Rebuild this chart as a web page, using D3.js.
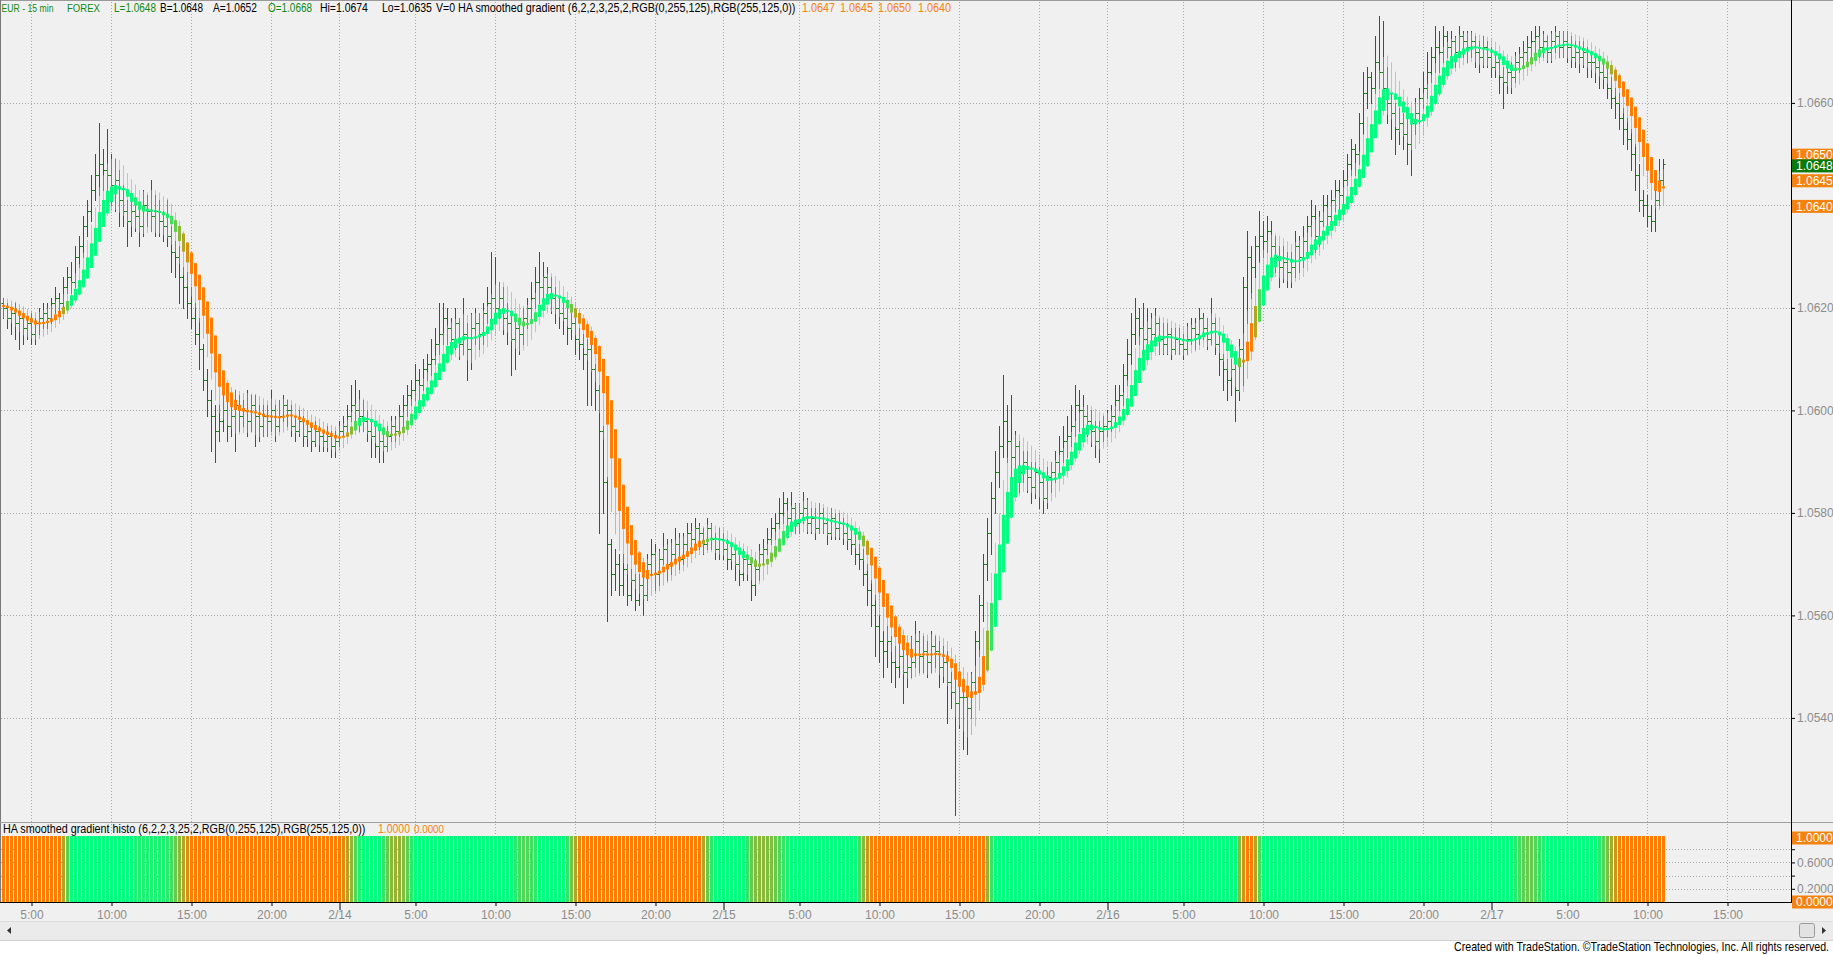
<!DOCTYPE html>
<html><head><meta charset="utf-8">
<script src="https://cdn.jsdelivr.net/npm/d3@7/dist/d3.min.js"></script>
<style>
html,body{margin:0;padding:0;background:#fff;overflow:hidden;}
svg{display:block;}
text{font-family:"Liberation Sans Narrow","Arial Narrow","Liberation Sans",Arial,sans-serif;}
</style></head><body>
<svg id="chart" width="1833" height="955"></svg>
<script>
// ---------- DATA (prices in pips above 1.0500) ----------
const basePrice = 1.05;
const open = [
121,120,118,119,117,118,116,117,115,117, 118,119,118,121,122,121,124,126,125,130,
132,136,139,143,146,148,147,146,144,145, 141,139,137,139,138,136,140,139,138,139,
137,136,134,131,130,126,124,121,118,115, 112,106,102,99,96,98,100,97,99,101,
99,100,98,101,99,97,99,98,100,97, 99,101,100,97,96,98,95,96,94,96,
95,94,95,93,94,96,97,99,101,100, 99,98,96,95,93,94,93,95,97,96,
99,101,103,104,106,105,108,109,110,113, 115,118,116,114,117,113,115,112,116,117,
115,119,121,122,120,122,118,117,114,116, 115,118,120,122,125,124,126,124,122,120,
119,118,116,117,114,113,111,112,108,104, 96,86,74,68,70,66,69,64,67,63,
66,64,70,72,68,71,73,70,72,74, 71,74,76,75,77,76,74,77,75,73,
75,73,71,72,70,68,71,70,66,69, 72,73,75,77,78,80,82,79,81,78,
80,81,78,79,77,80,78,76,79,77, 78,76,75,74,72,71,68,65,62,58,
55,53,55,51,50,52,49,50,51,55, 52,53,51,54,53,50,51,47,45,43,
44,44,42,47,55,62,70,76,83,88, 93,98,94,91,93,88,90,87,85,88,
86,83,87,88,90,92,94,95,97,101, 100,99,98,96,94,96,97,98,99,102,
103,107,111,115,118,116,114,116,115,117, 114,113,115,112,114,113,112,114,116,115,
118,116,114,117,113,110,108,106,108,104, 112,124,130,128,132,134,133,135,132,130,
128,129,127,128,132,130,133,136,138,134, 137,140,138,141,143,142,145,148,151,150,
156,162,165,163,168,166,163,160,158,155, 156,154,152,156,158,161,163,166,169,171,
170,173,171,172,170,173,172,171,172,170, 169,171,169,167,168,165,164,166,165,168,
169,170,171,172,173,171,172,170,172,173, 171,172,171,169,170,169,170,168,168,167,
166,165,163,161,160,157,155,153,150,146, 141,140,138,137,141,145];
const high = [
122,121,120,121,119,119,118,119,118,120, 121,121,122,124,123,126,128,129,132,134,
138,141,146,150,156,151,155,150,149,147, 144,141,142,141,140,143,142,145,142,141,
139,141,136,133,132,128,127,124,121,118, 113,108,104,101,101,103,102,101,104,103,
102,104,103,103,101,101,101,104,101,102, 103,102,101,99,100,99,98,97,98,97,
96,97,96,96,98,99,101,105,106,104, 102,100,98,97,96,96,97,99,99,101,
103,105,106,109,108,110,111,114,116,121, 121,120,118,120,118,122,117,119,120,119,
121,124,131,130,125,124,121,119,118,118, 120,122,125,128,131,129,128,126,124,122,
121,120,119,118,116,115,114,113,109,105, 97,87,75,73,72,72,70,69,68,68,
68,72,75,74,73,76,75,75,77,76, 76,78,78,79,78,77,79,78,76,77,
76,75,74,73,72,73,72,71,71,74, 75,77,79,80,83,84,83,84,82,82,
84,83,81,81,82,81,79,81,80,80, 79,78,77,76,74,73,70,67,64,60,
57,58,56,54,55,54,53,56,59,57, 56,55,57,56,55,54,53,49,48,47,
47,46,49,57,64,72,79,86,92,97, 107,101,103,96,94,92,92,90,90,89,
88,89,90,92,95,97,99,101,105,104, 103,101,100,98,98,99,100,101,105,105,
109,114,119,122,120,121,120,119,120,118, 117,117,116,116,116,115,117,118,118,120,
119,118,122,118,115,111,110,110,109,114, 126,135,132,134,139,137,138,137,134,132,
132,131,131,135,134,136,138,141,140,139, 142,142,143,145,145,147,150,153,152,158,
166,167,166,173,177,176,167,162,160,159, 158,157,158,161,163,166,170,171,175,174,
175,174,174,173,175,174,174,174,173,172, 173,172,171,170,169,167,168,168,170,171,
172,173,174,175,175,174,173,174,175,174, 174,174,173,172,172,172,171,170,169,169,
168,167,165,163,162,159,157,155,152,148, 143,142,140,144,149,149];
const low = [
118,116,115,114,112,113,114,113,113,115, 116,116,117,119,119,120,123,123,124,128,
130,134,137,141,142,143,142,140,139,136, 136,132,134,135,132,134,136,135,134,134,
133,132,127,126,121,120,118,116,113,108, 104,99,92,90,94,96,94,95,92,96,
97,95,96,93,94,95,95,96,94,96, 98,97,95,94,95,93,93,92,93,92,
92,92,91,91,93,95,96,98,97,96, 96,94,91,91,90,90,92,94,94,95,
97,99,101,102,102,104,106,107,109,111, 113,113,111,112,110,111,106,108,113,112,
113,117,118,117,118,115,113,107,108,111, 113,116,118,120,121,122,121,119,117,116,
115,113,114,111,110,108,101,101,100,76, 80,59,64,65,64,64,62,63,61,62,
60,63,68,65,66,70,67,68,71,69, 70,72,73,74,73,72,73,73,71,71,
71,69,69,67,66,67,67,63,64,67, 70,72,74,75,77,78,77,77,76,76,
78,76,76,75,76,76,74,75,75,75, 74,73,72,70,69,66,62,58,52,51,
48,50,47,46,48,43,46,48,50,49, 49,48,49,50,46,47,39,42,21,38,
34,33,40,45,52,59,67,72,80,85, 91,90,87,88,84,86,84,82,83,81,
80,81,84,86,88,90,91,93,95,96, 96,95,93,91,90,94,95,96,97,100,
101,105,109,113,113,111,112,112,113,111, 111,111,110,111,111,110,111,113,112,113,
114,112,113,111,107,104,102,103,98,102, 105,117,122,126,129,130,131,129,127,124,
125,124,124,126,127,128,131,134,131,132, 136,135,137,139,139,140,144,146,146,148,
154,159,160,162,163,160,156,153,150,152, 151,148,146,154,156,159,161,164,166,166,
168,169,168,167,169,169,168,169,167,166, 167,167,165,165,162,159,162,162,164,166,
167,168,169,170,169,169,168,168,170,169, 169,168,167,167,166,167,165,165,164,163,
163,161,159,157,155,152,151,147,143,139, 138,136,135,135,140,144];
const close = [
120,118,119,117,118,116,117,115,117,118, 119,118,121,122,121,124,126,125,130,132,
136,139,143,146,148,147,146,144,145,141, 139,137,139,138,136,140,139,138,139,137,
136,134,131,130,126,124,121,118,115,112, 106,102,99,96,98,100,97,99,101,99,
100,98,101,99,97,99,98,100,97,99, 101,100,97,96,98,95,96,94,96,95,
94,95,93,94,96,97,99,101,100,99, 98,96,95,93,94,93,95,97,96,99,
101,103,104,106,105,108,109,110,113,115, 118,116,114,117,113,115,112,116,117,115,
119,121,122,120,122,118,117,114,116,115, 118,120,122,125,124,126,124,122,120,119,
118,116,117,114,113,111,112,108,104,96, 86,74,68,70,66,69,64,67,63,66,
64,70,72,68,71,73,70,72,74,71, 74,76,75,77,76,74,77,75,73,75,
73,71,72,70,68,71,70,66,69,72, 73,75,77,78,80,82,79,81,78,80,
81,78,79,77,80,78,76,79,77,78, 76,75,74,72,71,68,65,62,58,55,
53,55,51,50,52,49,50,51,55,52, 53,51,54,53,50,51,47,45,43,44,
44,42,47,55,62,70,76,83,88,93, 98,94,91,93,88,90,87,85,88,86,
83,87,88,90,92,94,95,97,101,100, 99,98,96,94,96,97,98,99,102,103,
107,111,115,118,116,114,116,115,117,114, 113,115,112,114,113,112,114,116,115,118,
116,114,117,113,110,108,106,108,104,112, 124,130,128,132,134,133,135,132,130,128,
129,127,128,132,130,133,136,138,134,137, 140,138,141,143,142,145,148,151,150,156,
162,165,163,168,166,163,160,158,155,156, 154,152,156,158,161,163,166,169,171,170,
173,171,172,170,173,172,171,172,170,169, 171,169,167,168,165,164,166,165,168,169,
170,171,172,173,171,172,170,172,173,171, 172,171,169,170,169,170,168,168,167,166,
165,163,161,160,157,155,153,150,146,141, 140,138,137,141,145,148];
// colour gradient per bar (0 = down colour, 1 = up colour)
const gradient = [
0,0,0,0,0,0,0,0,0,0, 0,0,0,0,0,0.3,0.65,1,1,1,
1,1,1,1,1,1,1,1,1,1, 1,1,1,0.9,0.9,0.9,0.9,0.9,0.9,0.9,
0.9,0.85,0.75,0.6,0.45,0.3,0.15,0,0,0, 0,0,0,0,0,0,0,0,0,0,
0,0,0,0,0,0,0,0,0,0, 0,0,0,0,0,0,0,0,0,0,
0,0,0,0,0,0.1,0.25,0.45,0.7,0.9, 1,1,1,1,1,0.8,0.6,0.45,0.4,0.4,
0.5,0.65,0.85,1,1,1,1,1,1,1, 1,1,1,1,1,1,1,1,1,1,
1,1,1,1,1,1,1,1,0.85,0.75, 0.7,0.7,0.75,0.85,1,1,1,1,1,1,
1,0.8,0.55,0.3,0.1,0,0,0,0,0, 0,0,0,0,0,0,0,0,0,0,
0,0,0,0,0,0,0,0,0,0, 0,0,0,0,0,0.3,0.6,0.85,1,1,
1,1,1,1,1,1,0.8,0.6,0.5,0.45, 0.45,0.5,0.5,0.6,0.7,0.8,0.9,1,1,1,
1,1,1,1,1,1,1,1,1,1, 1,1,1,1,0.75,0.45,0.2,0.05,0,0,
0,0,0,0,0,0,0,0,0,0, 0,0,0,0,0,0,0,0,0,0,
0,0,0,0,0,0,0.4,0.8,1,1, 1,1,1,1,1,1,1,1,1,1,
1,1,1,1,1,1,1,1,1,1, 1,1,1,1,1,1,1,1,1,1,
1,1,1,1,1,1,1,1,1,1, 1,1,1,1,1,1,1,1,1,1,
1,1,1,1,1,1,1,1,1,0.5, 0.15,0,0,0.3,0.7,1,1,1,1,1,
1,1,1,1,1,1,1,1,1,1, 1,1,1,1,1,1,1,1,1,1,
1,1,1,1,1,1,1,1,1,1, 1,1,1,1,1,1,1,1,1,1,
1,1,1,1,1,1,1,1,1,1, 1,1,1,1,1,1,1,1,0.85,0.75,
0.65,0.6,0.6,0.7,0.8,0.9,1,1,1,1, 1,1,1,1,1,1,1,1,1,0.85,
0.7,0.5,0.35,0.2,0.05,0,0,0,0,0, 0,0,0,0,0,0];
const histLevel = 1;
const upColor = "rgb(0,255,125)", downColor = "rgb(255,125,0)";
const smoothLen1 = 6, smoothLen2 = 2;

const timeTickBars   = [7,27,47,67,84,103,123,143,163,180,199,219,239,259,276,295,315,335,355,372,391,411,431];
const timeTickLabels = ["5:00","10:00","15:00","20:00","2/14","5:00","10:00","15:00","20:00","2/15","5:00","10:00","15:00","20:00","2/16","5:00","10:00","15:00","20:00","2/17","5:00","10:00","15:00"];
const priceTicks = [1.0540,1.0560,1.0580,1.0600,1.0620,1.0640,1.0660];
const histTicks = [0.2,0.4,0.6,0.8];
const histTickLabels = ["0.2000","","0.6000",""];
const lastPrice = 1.0648;
const haMarkers = [1.0650,1.0645,1.0640];
const histMarkers = [1.0,0.0];

// [text, left x, available width, colour]
const headerParts = [
 ["EUR - 15 min",1.6,52,"g"],["FOREX",67,33,"g"],["L=1.0648",114,42,"g"],["B=1.0648",160,43,"k"],
 ["A=1.0652",213,44,"k"],["O=1.0668",268,44,"g"],["Hi=1.0674",320,48,"k"],["Lo=1.0635",382,50,"k"],
 ["V=0",436,19,"k"],["HA smoothed gradient (6,2,2,3,25,2,RGB(0,255,125),RGB(255,125,0))",458,338,"k"],
 ["1.0647",802,34,"o"],["1.0645",840,34,"o"],["1.0650",878,36,"o"],["1.0640",918,34,"o"]];
const headerRefToken = 9;
const histHeaderParts = [
 ["HA smoothed gradient histo (6,2,2,3,25,2,RGB(0,255,125),RGB(255,125,0))",3,363,"k"],
 ["1.0000",378,32,"o"],["0.0000",414,30,"o"]];
const histHeaderRefToken = 0;
const footerText = "Created with TradeStation. \u00A9TradeStation Technologies, Inc. All rights reserved.";

// ---------- INDICATOR (smoothed Heikin-Ashi) ----------
function ema(arr, n){ const a = 2/(n+1); const out=[]; arr.forEach((v,i)=>out.push(i?out[i-1]+a*(v-out[i-1]):v)); return out; }
const o1=ema(open,smoothLen1), h1=ema(high,smoothLen1), l1=ema(low,smoothLen1), c1=ema(close,smoothLen1);
const haC=[], haO=[], haH=[], haL=[];
close.forEach((_,i)=>{
  haC[i]=(o1[i]+h1[i]+l1[i]+c1[i])/4;
  haO[i]= i? (haO[i-1]+haC[i-1])/2 : (o1[i]+c1[i])/2;
  haH[i]=Math.max(h1[i],haO[i],haC[i]);
  haL[i]=Math.min(l1[i],haO[i],haC[i]);
});
const so=ema(haO,smoothLen2), sc=ema(haC,smoothLen2), sh=ema(haH,smoothLen2), sl=ema(haL,smoothLen2);

// ---------- SCALES ----------
const P = p => basePrice + p/10000;
const x = d3.scaleLinear().domain([0,431]).range([3.5, 3.5+4*431]);
const y = d3.scaleLinear().domain([1.0540,1.0660]).range([717.9,102.9]);
const yh = d3.scaleLinear().domain([0,1]).range([902,836]);
const col = d3.interpolateRgb(downColor, upColor);
const px = v => Math.round(v)+0.5;

const svg = d3.select("#chart");
const FONT = '"Liberation Sans Narrow","Arial Narrow","Liberation Sans",Arial,sans-serif';
svg.append("rect").attr("width",1833).attr("height",955).attr("fill","#ffffff");
svg.append("rect").attr("width",1833).attr("height",921).attr("fill","#f0f0f0");

// grid
const grid = svg.append("g").attr("stroke","#a8a8a8").attr("stroke-width",1).attr("stroke-dasharray","1,2");
priceTicks.forEach(p=>grid.append("line").attr("x1",1).attr("x2",1791).attr("y1",px(y(p))).attr("y2",px(y(p))));
histTicks.forEach(v=>grid.append("line").attr("x1",1).attr("x2",1791).attr("y1",px(yh(v))).attr("y2",px(yh(v))));
timeTickBars.forEach(b=>grid.append("line").attr("x1",x(b)).attr("x2",x(b)).attr("y1",2).attr("y2",902));

// raw bars
const raw = svg.append("g").attr("stroke","#0e740e").attr("stroke-width",1);
close.forEach((c,i)=>{
  const xi=x(i);
  raw.append("line").attr("x1",xi).attr("x2",xi).attr("y1",Math.round(y(P(high[i])))).attr("y2",Math.round(y(P(low[i])))+1);
  raw.append("line").attr("x1",xi-2).attr("x2",xi).attr("y1",px(y(P(open[i])))).attr("y2",px(y(P(open[i]))));
  raw.append("line").attr("x1",xi).attr("x2",xi+2).attr("y1",px(y(P(c)))).attr("y2",px(y(P(c))));
});

// HA wicks + bodies
const ha = svg.append("g");
close.forEach((_,i)=>{
  const xi=x(i), c=col(gradient[i]);
  ha.append("line").attr("x1",xi).attr("x2",xi).attr("y1",y(P(sh[i]))).attr("y2",y(P(sl[i])))
    .attr("stroke",c).attr("stroke-width",1).attr("stroke-opacity",0.6);
});
close.forEach((_,i)=>{
  const xi=x(i), c=col(gradient[i]);
  const y1=y(P(so[i])), y2=y(P(sc[i]));
  const d=Math.abs(y1-y2), h=Math.max(2,d);
  ha.append("rect").attr("x",xi-1.5).attr("width",3).attr("y",Math.min(y1,y2)-(h-d)/2).attr("height",h).attr("fill",c);
});

// histogram
const hist = svg.append("g");
gradient.forEach((g,i)=>{
  hist.append("rect").attr("x",x(i)-1.5).attr("width",3).attr("y",yh(histLevel)).attr("height",yh(0)-yh(histLevel)).attr("fill",col(g));
});

// frame lines
svg.append("line").attr("x1",0).attr("x2",1833).attr("y1",0.5).attr("y2",0.5).attr("stroke","#9a9a9a");
svg.append("line").attr("x1",0.5).attr("x2",0.5).attr("y1",0).attr("y2",902).attr("stroke","#7a7a7a");
svg.append("line").attr("x1",0).attr("x2",1833).attr("y1",822.5).attr("y2",822.5).attr("stroke","#a0a0a0");
svg.append("line").attr("x1",0).attr("x2",1791).attr("y1",902.5).attr("y2",902.5).attr("stroke","#000");
svg.append("line").attr("x1",1791.5).attr("x2",1791.5).attr("y1",0).attr("y2",903).attr("stroke","#000");

// price axis
const pa = svg.append("g").attr("transform","translate(1791,0)")
  .call(d3.axisRight(y).tickValues(priceTicks).tickFormat(d3.format(".4f")).tickSize(4).tickPadding(2));
pa.select(".domain").remove();
pa.selectAll("line").attr("stroke","#000");
pa.selectAll("text").attr("fill","#8c8c8c").style("font-family",FONT).style("font-size","12px");

// hist axis
const ha2 = svg.append("g").attr("transform","translate(1791,0)")
  .call(d3.axisRight(yh).tickValues(histTicks).tickFormat((d,i)=>histTickLabels[i]).tickSize(4).tickPadding(2));
ha2.select(".domain").remove();
ha2.selectAll("line").attr("stroke","#000");
ha2.selectAll("text").attr("fill","#8c8c8c").style("font-family",FONT).style("font-size","12px");

// time axis
const ta = svg.append("g").attr("transform","translate(0,902)")
  .call(d3.axisBottom(x).tickValues(timeTickBars).tickFormat((d,i)=>timeTickLabels[i]).tickSize(4).tickPadding(4));
ta.select(".domain").remove();
ta.selectAll("line").attr("stroke","#000").attr("y2",(d,i)=>timeTickLabels[i].includes("/")?8:4);
ta.selectAll("text").attr("fill","#8c8c8c").style("font-family",FONT).style("font-size","12px");

// value markers
function marker(scale, v, fill, label, dy){
  const yc = scale(v)+dy;
  svg.append("rect").attr("x",1792).attr("y",yc-6.5).attr("width",41).attr("height",13).attr("fill",fill);
  svg.append("text").attr("x",1796).attr("y",yc+4.3).attr("fill","#fff").style("font-size","12px").style("font-family",FONT).text(label);
}
haMarkers.forEach(v=>marker(y,v,"#f5820f",d3.format(".4f")(v),1));
marker(y,lastPrice,"#0b7a0b",d3.format(".4f")(lastPrice),1.5);
marker(yh,histMarkers[0],"#f5820f","1.0000",2);
marker(yh,histMarkers[1],"#f5820f","0.0000",0);

// header lines: one text element per line; horizontal condensation set by the reference token,
// tokens that would still overflow their slot get a slightly smaller font size
const cmap = {g:"#138a13",k:"#000",o:"#f5820f"};
function headerLine(parts, refIdx, baseY, size){
  const g = svg.append("g");
  const t = g.append("text").attr("y",baseY).style("font-size",size+"px").style("font-family",FONT);
  const spans = parts.map(([s,x0,w,c])=>t.append("tspan").attr("fill",cmap[c]).text(s));
  const widths = spans.map(sp=>sp.node().getComputedTextLength());
  const k = Math.min(1, parts[refIdx][2]/widths[refIdx]);
  spans.forEach((sp,i)=>{
    const need = widths[i]*k, avail = parts[i][2];
    if (need > avail) sp.style("font-size",(size*avail/need).toFixed(2)+"px");
    sp.attr("x",parts[i][1]/k);
  });
  g.attr("transform",`scale(${k},1)`);
}
headerLine(headerParts, headerRefToken, 12.5, 13);
headerLine(histHeaderParts, histHeaderRefToken, 833.5, 12.5);

// scrollbar + footer
svg.append("rect").attr("x",0).attr("y",921).attr("width",1833).attr("height",19).attr("fill","#ebebeb");
svg.append("line").attr("x1",0).attr("x2",1833).attr("y1",921.5).attr("y2",921.5).attr("stroke","#dcdcdc");
svg.append("line").attr("x1",0).attr("x2",1833).attr("y1",940.5).attr("y2",940.5).attr("stroke","#d0d0d0");
svg.append("path").attr("d","M11,927 L7,930.5 L11,934 Z").attr("fill","#333");
svg.append("rect").attr("x",1799.5).attr("y",923.5).attr("width",15).attr("height",14).attr("rx",2).attr("fill","#e2e2e2").attr("stroke","#9a9a9a");
svg.append("path").attr("d","M1822,927 L1826,930.5 L1822,934 Z").attr("fill","#333");
const fg = svg.append("g");
const ft = fg.append("text").attr("x",0).attr("y",0).attr("text-anchor","end").attr("fill","#000")
  .style("font-size","12px").style("font-family",FONT).text(footerText);
const fk = Math.min(1, 375/ft.node().getComputedTextLength());
fg.attr("transform",`translate(1829,950.5) scale(${fk},1)`);
</script>
</body></html>
